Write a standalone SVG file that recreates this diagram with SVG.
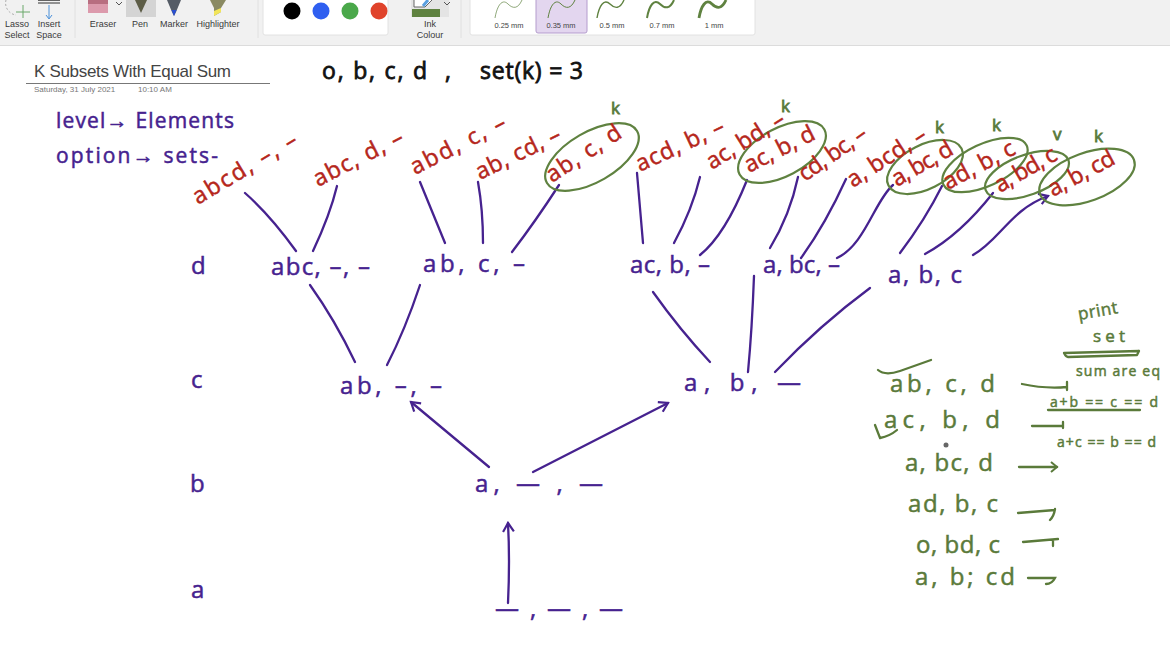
<svg xmlns="http://www.w3.org/2000/svg" width="1170" height="656" viewBox="0 0 1170 656">
<style>
text{font-family:"Liberation Sans",Arial,sans-serif}
.tb{font-size:9px;fill:#3a3a3a;text-anchor:middle}
.mm{font-size:7.5px;fill:#444;text-anchor:middle}
.ink{font-family:"Open Sans","Liberation Sans",sans-serif;stroke-width:.5px;paint-order:stroke}
.k{font-size:23px;fill:#111;stroke:#111;stroke-width:.8px}
.p{font-size:24px;fill:#46228f;stroke:#46228f}
.lg{font-size:21px}
.r{font-size:23px;fill:#b5261b;stroke:#b5261b}
.g{font-size:24px;fill:#5a7a3a;stroke:#5a7a3a}
.kk{font-size:17px;fill:#5a7a3a;stroke:#5a7a3a;stroke-width:.8px}
.gs{font-size:14px;fill:#5a7a3a;stroke:#5a7a3a}
.line{fill:none;stroke:#46228f;stroke-width:2.3;stroke-linecap:round}
.gl{fill:none;stroke:#5a7a3a;stroke-width:2.3;stroke-linecap:round}
.el{fill:none;stroke:#5f8240;stroke-width:2.2}
</style>
<defs>
<marker id="arP" viewBox="0 0 12 12" refX="10" refY="6" markerWidth="13" markerHeight="13" markerUnits="userSpaceOnUse" orient="auto"><path d="M2 1L10 6L2 11" fill="none" stroke="#46228f" stroke-width="2"/></marker>
<marker id="arG" viewBox="0 0 12 12" refX="10" refY="6" markerWidth="12" markerHeight="12" markerUnits="userSpaceOnUse" orient="auto"><path d="M4 1L10 6L4 11" fill="none" stroke="#5a7a3a" stroke-width="2"/></marker>
</defs>
<rect width="1170" height="656" fill="#fff"/>
<g id="toolbar">
<rect width="1170" height="45" fill="#f1f1f1"/>
<rect y="45" width="1170" height="1" fill="#dcdcdc"/>
<rect x="263" y="-2" width="125" height="37" rx="2" fill="#fff" stroke="#e2e2e2"/>
<rect x="470" y="-2" width="285" height="37" rx="2" fill="#fff" stroke="#e2e2e2"/>
<rect x="536" y="-2" width="51" height="35" rx="2" fill="#e3d6ef" stroke="#b49ccd"/>
<rect x="126" y="-1" width="30" height="18" fill="#d4d4d4"/>
<path d="M6 0A12 12 0 0 0 16 15" fill="none" stroke="#aaa" stroke-dasharray="2 2"/>
<path d="M16 12H30M23 5V18" stroke="#6aa86a" fill="none"/>
<path d="M38 0H60" stroke="#333" stroke-width="1.5"/><path d="M38 3H60" stroke="#333"/><path d="M49 5V18M46 15L49 19L52 15" stroke="#4a90d9" fill="none"/>
<rect x="88" y="0" width="20" height="13" fill="#dc9aac"/><rect x="88" y="0" width="20" height="4" fill="#b86e80"/>
<path d="M135 0H147L141 13Z" fill="#5c5c46"/>
<path d="M167 0H181L176 12L174 16L172 12Z" fill="#555c66"/><path d="M171.500 10L174 16L176.500 10Z" fill="#2a4fd0"/>
<path d="M210 0H226L221 8V12L214 16V8Z" fill="#8a8a62"/><path d="M214 11L221 8V12L214 16Z" fill="#f2e55a"/>
<path d="M116 2L119 5L122 2" fill="none" stroke="#555"/>
<circle cx="292" cy="11" r="8.500" fill="#000"/><circle cx="321" cy="11" r="8.500" fill="#2f5ff0"/><circle cx="350" cy="11" r="8.500" fill="#4aa84a"/><circle cx="379" cy="11" r="8.500" fill="#e0432b"/>
<rect x="411" y="0" width="38" height="17" fill="#e4e4e4"/>
<rect x="412" y="9" width="28" height="8" fill="#5f8240"/>
<path d="M414 0V7H425L432 0" fill="#fff" stroke="#666"/><path d="M428 0L423 6" stroke="#5aa0e0" stroke-width="3"/>
<path d="M444 2L447 5L450 2" fill="none" stroke="#555"/>
<path d="M461 0V38M258 0V38M75 0V38" stroke="#e0e0e0" fill="none"/>
<text class="tb" x="17" y="27">Lasso</text><text class="tb" x="17" y="38">Select</text>
<text class="tb" x="49" y="27">Insert</text><text class="tb" x="49" y="38">Space</text>
<text class="tb" x="103" y="27">Eraser</text><text class="tb" x="140" y="27">Pen</text><text class="tb" x="174" y="27">Marker</text><text class="tb" x="218" y="27">Highlighter</text>
<text class="tb" x="430" y="27">Ink</text><text class="tb" x="430" y="38">Colour</text>
<text class="mm" x="509" y="28">0.25 mm</text><text class="mm" x="561" y="28">0.35 mm</text><text class="mm" x="612" y="28">0.5 mm</text><text class="mm" x="662" y="28">0.7 mm</text><text class="mm" x="714" y="28">1 mm</text>
<g fill="none" stroke="#5f8240">
<path d="M495 18C497 6 502 -2 508 4C513 9 518 9 522 0" stroke-width=".7"/>
<path d="M548 18C550 6 555 -2 561 4C566 9 571 9 575 0" stroke-width="1"/>
<path d="M597 18C599 6 604 -2 610 4C615 9 620 9 624 0" stroke-width="1.400"/>
<path d="M647 18C649 6 654 -2 660 4C665 9 670 9 674 0" stroke-width="2"/>
<path d="M699 18C701 6 706 -2 712 4C717 9 722 9 726 0" stroke-width="2.800"/>
</g>
</g>
<g id="page-title">
<text x="34" y="77" font-size="17" fill="#444" textLength="197">K Subsets With Equal Sum</text>
<path d="M26 83.500H270" stroke="#777"/>
<text x="34" y="92" font-size="8" fill="#777">Saturday, 31 July 2021</text>
<text x="138" y="92" font-size="8" fill="#777">10:10 AM</text>
</g>
<g id="problem">
<text class="ink k" x="322" y="79" textLength="105">o, b, c, d</text>
<text class="ink k" x="445" y="79">,</text>
<text class="ink k" x="480" y="79" textLength="103">set(k) = 3</text>
</g>
<g id="legend">
<text class="ink p lg" x="56" y="128" textLength="178" style="font-size:21px">level→ Elements</text>
<text class="ink p lg" x="56" y="163" textLength="162" style="font-size:21px">option→ sets-</text>
</g>
<g id="levels">
<text class="ink p" x="191" y="274">d</text><text class="ink p" x="191" y="388">c</text><text class="ink p" x="190" y="492">b</text><text class="ink p" x="191" y="598">a</text>
</g>
<g id="connectors">
<path class="line" d="M245 193Q270 215 296 251"/>
<path class="line" d="M337 186Q330 215 313 251"/>
<path class="line" d="M420 182L445 243"/>
<path class="line" d="M478 182Q483 210 483 243"/>
<path class="line" d="M559 185Q535 222 512 252"/>
<path class="line" d="M637 173L643 243"/>
<path class="line" d="M700 177Q692 210 674 243"/>
<path class="line" d="M747 180Q725 235 700 255"/>
<path class="line" d="M798 177Q790 215 770 248"/>
<path class="line" d="M846 179Q825 225 801 258"/>
<path class="line" d="M893 185C875 200 865 245 837 258"/>
<path class="line" d="M942 186Q925 220 900 253"/>
<path class="line" d="M993 193Q960 235 925 254"/>
<path class="line" d="M973 255C1000 240 1010 210 1048 196" marker-end="url(#arP)"/>
<path class="line" d="M310 285Q335 320 355 362"/>
<path class="line" d="M420 285Q405 330 387 365"/>
<path class="line" d="M653 292Q680 330 710 362"/>
<path class="line" d="M754 276Q752 330 748 372"/>
<path class="line" d="M775 372Q820 325 870 288"/>
<path class="line" d="M489 467L411 402" marker-end="url(#arP)"/>
<path class="line" d="M533 472L668 403" marker-end="url(#arP)"/>
<path class="line" d="M508 603Q510 560 508 523" marker-end="url(#arP)"/>
</g>
<g id="leaf-ovals">
<ellipse class="el" cx="592" cy="157" rx="52" ry="25" transform="rotate(-30 592 157)"/>
<ellipse class="el" cx="782" cy="152" rx="48" ry="24" transform="rotate(-28 782 152)"/>
<ellipse class="el" cx="925" cy="167" rx="41" ry="22" transform="rotate(-27 925 167)"/>
<ellipse class="el" cx="985" cy="165" rx="46" ry="21" transform="rotate(-25 985 165)"/>
<ellipse class="el" cx="1027" cy="175" rx="44" ry="20" transform="rotate(-20 1027 175)"/>
<ellipse class="el" cx="1087" cy="177" rx="50" ry="24" transform="rotate(-20 1087 177)"/>
</g>
<g id="leaf-labels">
<text class="ink r" transform="translate(198 205) rotate(-31)" textLength="118">abcd, –, –</text>
<text class="ink r" transform="translate(318 187) rotate(-27)" textLength="98">abc, d, –</text>
<text class="ink r" transform="translate(415 175) rotate(-27)" textLength="104">abd, c, –</text>
<text class="ink r" transform="translate(480 180) rotate(-26)" textLength="92">ab, cd, –</text>
<text class="ink r" transform="translate(552 183) rotate(-33)" textLength="85">ab, c, d</text>
<text class="ink r" transform="translate(640 172) rotate(-25)" textLength="95">acd, b, –</text>
<text class="ink r" transform="translate(712 170) rotate(-32)" textLength="88">ac, bd, –</text>
<text class="ink r" transform="translate(749 173) rotate(-27)" textLength="76">ac, b, d</text>
<text class="ink r" transform="translate(805 182) rotate(-35)" textLength="78">cd, bc, –</text>
<text class="ink r" transform="translate(853 188) rotate(-33)" textLength="90">a, bcd, –</text>
<text class="ink r" transform="translate(897 187) rotate(-30)" textLength="67">a, bc, d</text>
<text class="ink r" transform="translate(948 190) rotate(-28)" textLength="78">ad, b, c</text>
<text class="ink r" transform="translate(1000 193) rotate(-30)" textLength="68">a, bd, c</text>
<text class="ink r" transform="translate(1053 197) rotate(-28)" textLength="72">a, b, cd</text>
<text class="ink kk" x="611" y="114">k</text>
<text class="ink kk" x="781" y="112">k</text>
<text class="ink kk" x="935" y="133">k</text>
<text class="ink kk" x="992" y="131">k</text>
<text class="ink kk" x="1053" y="140">v</text>
<text class="ink kk" x="1094" y="142">k</text>
</g>
<g id="node-abc"><text class="ink p" x="271" y="275" textLength="99">abc, –, –</text></g>
<g id="node-ab-c"><text class="ink p" x="423" y="272" textLength="102">ab, c, –</text></g>
<g id="node-ac-b"><text class="ink p" x="630" y="273" textLength="80">ac, b, –</text></g>
<g id="node-a-bc"><text class="ink p" x="763" y="273" textLength="77">a, bc, –</text></g>
<g id="node-a-b-c"><text class="ink p" x="888" y="283" textLength="74">a, b, c</text></g>
<g id="node-ab"><text class="ink p" x="340" y="394" textLength="102">ab, –, –</text></g>
<g id="node-a-b"><text class="ink p" x="684" y="391" textLength="117">a, b, —</text></g>
<g id="node-a"><text class="ink p" x="475" y="492" textLength="128">a, — , —</text></g>
<g id="node-root"><text class="ink p" x="495" y="617" textLength="128">— , — , —</text></g>
<g id="results">
<text class="ink g" x="890" y="392" textLength="105">ab, c, d</text>
<text class="ink g" x="884" y="428" textLength="116">ac, b, d</text>
<text class="ink g" x="905" y="471" textLength="88">a, bc, d</text>
<text class="ink g" x="908" y="512" textLength="90">ad, b, c</text>
<text class="ink g" x="916" y="553" textLength="84">o, bd, c</text>
<text class="ink g" x="915" y="585" textLength="100">a, b; cd</text>
<path class="gl" d="M878 370Q885 376 900 371L931 360"/>
<path class="gl" d="M875 425L880 438Q890 436 897 430"/>
<circle cx="946" cy="445" r="2.500" fill="#666"/>
<path class="gl" d="M1022 384Q1045 389 1067 387M1067 382V390"/>
<path class="gl" d="M1032 426H1063M1063 422V428"/>
<path class="gl" d="M1019 467H1057" marker-end="url(#arG)"/>
<path class="gl" d="M1018 513L1055 510M1055 509Q1054 516 1050 520"/>
<path class="gl" d="M1023 542L1058 539M1053 540V546"/>
<path class="gl" d="M1028 578H1055Q1052 584 1046 584"/>
<text class="ink gs" style="font-size:17px" transform="translate(1079 320) rotate(-10)" textLength="40">print</text>
<text class="ink gs" style="font-size:17px" x="1093" y="342" textLength="32">set</text>
<path class="gl" d="M1064 353L1139 351M1068 357L1137 355M1064 353Q1066 357 1068 357M1139 351L1137 355"/>
<text class="ink gs" x="1076" y="376" textLength="84">sum are eq</text>
<text class="ink gs" x="1050" y="407" textLength="108">a+b == c == d</text>
<path class="gl" d="M1048 410H1140"/>
<text class="ink gs" x="1057" y="447" textLength="99">a+c == b == d</text>
</g>
</svg>
